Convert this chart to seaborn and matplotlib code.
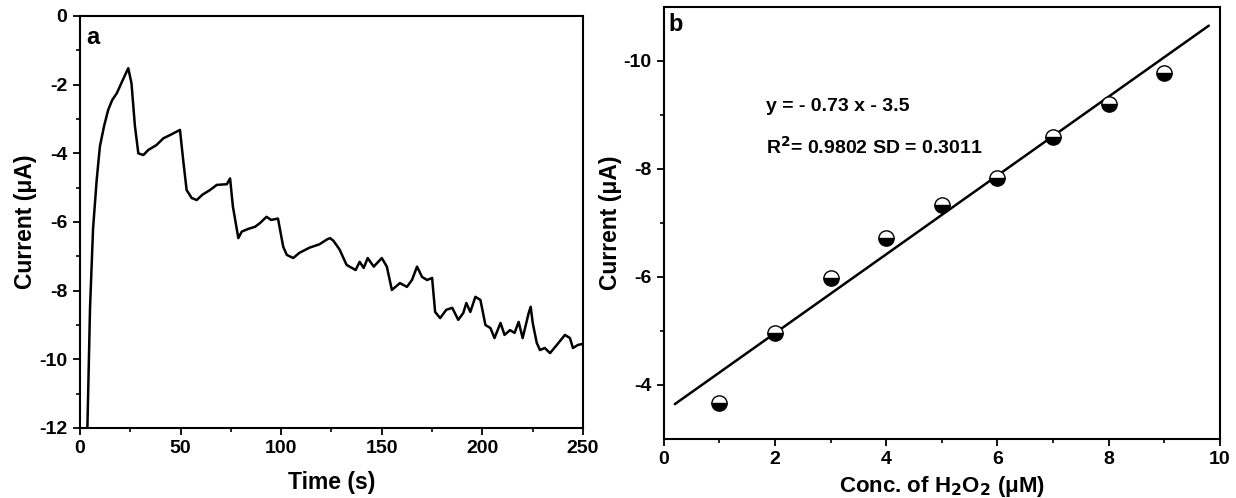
import numpy as np
import pandas as pd
import seaborn as sns
import matplotlib.pyplot as plt

# --- panel a: amperometric response ---
time_s = [3.5, 5.0, 6.5, 8.3, 9.9, 12.0, 14.0, 16.0, 18.3, 21.0, 24.0,
          25.6, 27.3, 29.0, 31.5, 34.0, 38.0, 41.5, 44.7, 48.0, 49.7,
          51.3, 53.0, 55.5, 58.0, 61.0, 64.6, 68.0, 73.0, 74.6,
          76.0, 78.7, 80.4, 83.7, 87.0, 89.5, 92.7, 95.0, 98.4,
          101.0, 102.8, 106.0, 109.0, 114.0, 119.0, 123.0, 124.3, 126.0, 129.0,
          132.5, 137.0, 139.0, 141.0, 143.0, 146.0, 150.0, 152.5,
          155.0, 159.0, 162.5, 165.0, 167.5, 170.0, 172.5, 175.0,
          176.5, 179.0, 182.0, 185.0, 188.0, 190.5, 192.0, 194.0, 196.5, 199.0,
          201.5, 204.0, 206.0, 209.0, 211.0, 213.7, 216.0, 218.0, 220.0, 223.0,
          224.0, 225.0, 227.0, 228.6, 231.0, 233.6, 237.0, 241.0, 243.5, 245.0,
          247.5, 250.0]
current_a = [-12.5, -8.5, -6.2, -4.78, -3.8, -3.2, -2.74, -2.45, -2.25, -1.9, -1.52,
             -1.96, -3.2, -4.0, -4.05, -3.9, -3.76, -3.56, -3.47, -3.37, -3.32,
             -4.2, -5.07, -5.3, -5.36, -5.2, -5.07, -4.92, -4.9, -4.73,
             -5.55, -6.47, -6.28, -6.2, -6.14, -6.03, -5.85, -5.94, -5.9,
             -6.72, -6.96, -7.05, -6.9, -6.75, -6.65, -6.5, -6.47, -6.55, -6.8,
             -7.25, -7.4, -7.16, -7.34, -7.05, -7.3, -7.05, -7.3,
             -7.98, -7.78, -7.89, -7.69, -7.3, -7.6, -7.69, -7.63,
             -8.62, -8.8, -8.56, -8.5, -8.85, -8.65, -8.36, -8.62, -8.18, -8.27,
             -9.0, -9.09, -9.38, -8.94, -9.29, -9.15, -9.23, -8.91, -9.38, -8.65,
             -8.47, -8.94, -9.52, -9.73, -9.67, -9.82, -9.58, -9.29, -9.38, -9.67,
             -9.58, -9.55]

# --- panel b: calibration points ---
conc_uM = [1, 2, 3, 4, 5, 6, 7, 8, 9]
current_b = [-3.67, -4.96, -5.98, -6.72, -7.33, -7.83, -8.59, -9.20, -9.78]
slope, intercept = -0.73, -3.5
fit_x = np.array([0.2, 9.8])

df_a = pd.DataFrame({"t": time_s, "i": current_a})
df_b = pd.DataFrame({"c": conc_uM, "i": current_b})
df_fit = pd.DataFrame({"c": fit_x, "i": slope * fit_x + intercept})

sns.set_style("ticks")
plt.rcParams["font.family"] = ["Liberation Sans", "DejaVu Sans"]
plt.rcParams["font.weight"] = "bold"
plt.rcParams["axes.labelweight"] = "bold"
plt.rcParams["axes.linewidth"] = 1.5
plt.rcParams["axes.edgecolor"] = "black"
plt.rcParams["axes.labelcolor"] = "black"
plt.rcParams["text.color"] = "black"
plt.rcParams["xtick.color"] = "black"
plt.rcParams["ytick.color"] = "black"
plt.rcParams["axes.unicode_minus"] = False
plt.rcParams["mathtext.default"] = "bf"

fig = plt.figure(figsize=(12.36, 4.98), dpi=100)
ax1 = fig.add_axes([0.0647, 0.1406, 0.407, 0.8273])
ax2 = fig.add_axes([0.537, 0.1185, 0.450, 0.8675])

# panel a
sns.lineplot(data=df_a, x="t", y="i", ax=ax1, color="black", linewidth=1.8)
ax1.set_xlim(0, 250)
ax1.set_ylim(-12, 0)
ax1.set_xticks([0, 50, 100, 150, 200, 250])
ax1.set_xticks([25, 75, 125, 175, 225], minor=True)
ax1.set_yticks([-12, -10, -8, -6, -4, -2, 0])
ax1.set_yticks([-11, -9, -7, -5, -3, -1], minor=True)
ax1.set_xlabel("Time (s)", fontsize=16.5, labelpad=10)
ax1.set_ylabel("Current (\u03bcA)", fontsize=16.5, labelpad=2)
ax1.text(0.012, 0.975, "a", transform=ax1.transAxes, fontsize=17,
         fontweight="bold", va="top", ha="left")

# panel b
sns.lineplot(data=df_fit, x="c", y="i", ax=ax2, color="black", linewidth=1.8)
sns.lineplot(data=df_b, x="c", y="i", ax=ax2, linestyle="", marker="o",
             markersize=11, fillstyle="bottom", markerfacecolor="black",
             markerfacecoloralt="white", markeredgecolor="black",
             markeredgewidth=1.0, color="black")
ax2.set_xlim(0, 10)
ax2.set_ylim(-3, -11)
ax2.set_xticks([0, 2, 4, 6, 8, 10])
ax2.set_xticks([1, 3, 5, 7, 9], minor=True)
ax2.set_yticks([-4, -6, -8, -10])
ax2.set_yticks([-5, -7, -9], minor=True)
ax2.set_xlabel("Conc. of H$_2$O$_2$ (\u03bcM)", fontsize=16, labelpad=4)
ax2.set_ylabel("Current (\u03bcA)", fontsize=16.5, labelpad=1)
ax2.text(0.008, 0.985, "b", transform=ax2.transAxes, fontsize=17,
         fontweight="bold", va="top", ha="left")
ax2.text(1.83, -9.15, "y = - 0.73 x - 3.5", fontsize=14, fontweight="bold",
         va="center")
ax2.text(1.83, -8.41, "R$^2$= 0.9802 SD = 0.3011", fontsize=14,
         fontweight="bold", va="center")

for ax in (ax1, ax2):
    ax.tick_params(which="major", direction="out", length=5, width=1.3,
                   labelsize=14, pad=4, top=False, right=False)
    ax.tick_params(which="minor", direction="out", length=3, width=1.2,
                   top=False, right=False)
    for lab in ax.get_xticklabels() + ax.get_yticklabels():
        lab.set_fontweight("bold")

fig.savefig("out.png", dpi=100)
